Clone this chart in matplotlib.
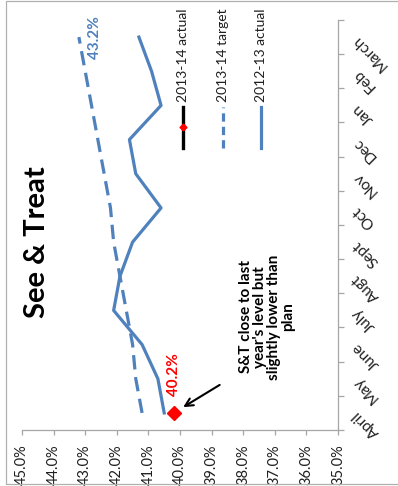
import matplotlib
matplotlib.use("Agg")
import matplotlib.pyplot as plt
from matplotlib.patches import Rectangle
from matplotlib.ticker import FixedLocator, FuncFormatter

plt.rcParams["font.family"] = ["Lato", "DejaVu Sans"]

months = ["April", "May", "June", "July", "Augt", "Sept",
          "Oct", "Nov", "Dec", "Jan", "Feb", "March"]
actual_2012_13 = [40.5, 40.7, 41.2, 42.1, 41.9, 41.5, 40.6, 41.4, 41.6, 40.6, 40.9, 41.3]
target_2013_14 = [41.2, 41.4, 41.5, 41.7, 41.9, 42.1, 42.2, 42.4, 42.6, 42.8, 43.0, 43.2]
actual_2013_14 = [40.2]
pct_ticks = [45, 44, 43, 42, 41, 40, 39, 38, 37, 36, 35]

blue = "#4F81BD"
axis_grey = "#A6A6A6"
text_col = "#1F1F1F"

W, H = 398, 486
fig = plt.figure(figsize=(W / 100, H / 100), dpi=100)
fig.patches.append(Rectangle((6 / W, 2 / H), 1.0, (H - 3.5) / H, transform=fig.transFigure,
                             fill=False, edgecolor="#B0B0B0", lw=0.9))

ax = fig.add_axes([22 / W, (H - 430) / H, 316 / W, 410 / H])
pos = list(range(len(months)))

# chart is laid out sideways: percentage runs along x, months run up the y axis
ax.plot(target_2013_14, pos, color=blue, lw=2.3, ls=(0, (4.5, 2.4)))
ax.plot(actual_2012_13, pos, color=blue, lw=2.3)
ax.plot(actual_2013_14, pos[:len(actual_2013_14)], color="black", lw=2.3,
        marker="D", ms=7, mfc="red", mec="red")

ax.annotate(f"{target_2013_14[-1]:.1f}%", (target_2013_14[-1], pos[-1]),
            xytext=(16, 0), textcoords="offset pixels", rotation=90,
            ha="center", va="center", color=blue, fontsize=11, fontweight="bold")
ax.annotate(f"{actual_2013_14[0]:.1f}%", (actual_2013_14[0], pos[0]),
            xytext=(0, 38), textcoords="offset pixels", rotation=90,
            ha="center", va="center", color="red", fontsize=11, fontweight="bold")
ax.annotate("", (actual_2013_14[0], pos[0]), xytext=(46, 28), textcoords="offset pixels",
            arrowprops=dict(arrowstyle="->", color="black", lw=1.5, shrinkA=0, shrinkB=8,
                            mutation_scale=14))

ax.text(0.775, 0.276, "S&T close to last\nyear's level but\nslightly lower than\nplan",
        transform=ax.transAxes, rotation=90, ha="center", va="center",
        multialignment="center", linespacing=1.0, fontsize=11, fontweight="bold",
        color="black")
ax.text(0.047, 0.459, "See & Treat", transform=ax.transAxes, rotation=90,
        ha="center", va="center", fontsize=21, fontweight="bold", color="black")

# legend, drawn upright to match the rotated layout
legend_items = [("2013-14 actual", 0.509), ("2013-14 target", 0.636), ("2012-13 actual", 0.756)]
for (label, lx), style in zip(legend_items, ["marker", "dash", "solid"]):
    if style == "marker":
        ax.plot([lx, lx], [0.688, 0.788], transform=ax.transAxes, color="black", lw=2.4,
                clip_on=False)
        ax.plot([lx], [0.738], transform=ax.transAxes, marker="D", ms=3.5, color="red",
                clip_on=False)
    elif style == "dash":
        ax.plot([lx, lx], [0.688, 0.788], transform=ax.transAxes, color=blue, lw=2.3,
                ls=(0, (2.6, 1.6)), clip_on=False)
    else:
        ax.plot([lx, lx], [0.688, 0.788], transform=ax.transAxes, color=blue, lw=2.3,
                clip_on=False)
    ax.text(lx, 0.80, label, transform=ax.transAxes, rotation=90, ha="center",
            va="bottom", fontsize=10, color=text_col)

ax.set_xlim(45, 35)
ax.set_ylim(-0.5, len(months) - 0.5)
ax.xaxis.set_major_locator(FixedLocator(pct_ticks))
ax.xaxis.set_major_formatter(FuncFormatter(lambda v, p: f"{v:.1f}%"))
ax.tick_params(axis="x", direction="out", length=3.5, width=0.9, color=axis_grey,
               pad=7, labelsize=10.5, labelcolor=text_col, labelrotation=90)

ax.yaxis.tick_right()
ax.yaxis.set_major_locator(FixedLocator([p - 0.5 for p in pos] + [pos[-1] + 0.5]))
ax.yaxis.set_major_formatter(FuncFormatter(lambda v, p: ""))
ax.yaxis.set_minor_locator(FixedLocator(pos))
ax.yaxis.set_minor_formatter(FuncFormatter(lambda v, p: months[int(round(v))]))
ax.tick_params(axis="y", which="major", direction="out", length=4.5, width=0.9,
               color=axis_grey, right=True, left=False)
ax.tick_params(axis="y", which="minor", length=0, pad=12, labelsize=11,
               labelcolor=text_col, right=True, left=False)
for lbl in ax.yaxis.get_minorticklabels():
    lbl.set_rotation(135)
    lbl.set_rotation_mode("anchor")
    lbl.set_horizontalalignment("right")
    lbl.set_verticalalignment("center")

for side in ["left", "top"]:
    ax.spines[side].set_visible(False)
for side in ["right", "bottom"]:
    ax.spines[side].set_color(axis_grey)
    ax.spines[side].set_linewidth(0.9)
ax.patch.set_visible(False)

fig.savefig("out.png", dpi=100)
